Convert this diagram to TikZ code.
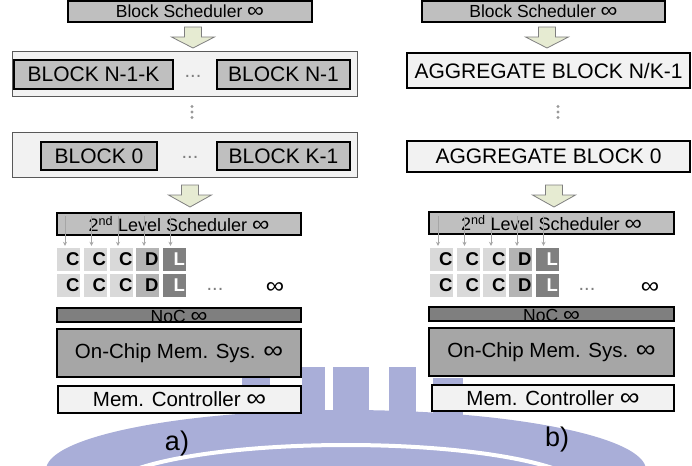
\documentclass[tikz,border=0pt]{standalone}
\usepackage{fontspec}
\setmainfont{Liberation Sans}
\usetikzlibrary{calc,arrows.meta}
\definecolor{gB}{HTML}{BFBFBF}
\definecolor{gC}{HTML}{D9D9D9}
\definecolor{gD}{HTML}{B4B4B4}
\definecolor{gL}{HTML}{808080}
\definecolor{gF}{HTML}{F2F2F2}
\definecolor{gN}{HTML}{7F7F7F}
\definecolor{gO}{HTML}{A6A6A6}
\definecolor{gBorder}{HTML}{595959}
\definecolor{wm}{HTML}{A9AED8}
\definecolor{arrfill}{HTML}{E6EBD2}
\newcommand\myfs[1]{\fontsize{#1}{#1}\selectfont}
\newcommand\infsym{\scalebox{1.35}[1.2]{∞}}
\newcommand\bigdownarrow[4]{%
  \filldraw[barr] ({#1-8.5},#2) -- ({#1+8.5},#2) -- ({#1+8.5},#3) -- ({#1+21.5},#3)
    -- (#1,#4) -- ({#1-21.5},#3) -- ({#1-8.5},#3) -- cycle;}
\newcommand\corerow[3]{%
  \node[ctile] (#1a) at (#2,#3) {C};
  \node[ctile] (#1b) at ({#2+26.5},#3) {C};
  \node[ctile] (#1c) at ({#2+53},#3) {C};
  \node[dtile] (#1d) at ({#2+79},#3) {D};
  \node[ltile] (#1e) at ({#2+105.5},#3) {L};}
\begin{document}
\begin{tikzpicture}[x=1pt,y=-1pt,
  box/.style={draw=black,line width=1.2pt,inner sep=0pt},
  sched/.style={box,fill=gB,font=\myfs{17.5}},
  blk/.style={box,fill=gB,font=\myfs{21}},
  cont/.style={draw=gBorder,line width=1pt,fill=gF,inner sep=0pt},
  agg/.style={box,fill=gF,font=\myfs{21}},
  tile/.style={inner sep=0.5pt,text width=22pt,align=right,minimum height=23pt,font=\bfseries\myfs{18.5}},
  ctile/.style={tile,fill=gC},
  dtile/.style={tile,fill=gD},
  ltile/.style={tile,fill=gL,text=white},
  noc/.style={box,fill=gN},
  onchip/.style={box,fill=gO,font=\myfs{20.5}},
  memc/.style={box,fill=gF,font=\myfs{20.5}},
  dotsg/.style={text=gN,font=\myfs{20},inner sep=0pt},
  vdot/.style={fill=gN!80},
  barr/.style={draw=gN,line width=0.8pt,fill=arrfill},
  smallarr/.style={draw=gO,line width=1pt,-{Stealth[length=4pt,width=4pt]}},
  lbl/.style={font=\myfs{27},inner sep=0pt}
]
\useasboundingbox (0,0) rectangle (692,465);
% watermark
\begin{scope}
  \clip (0,0) rectangle (692,465);
  \fill[wm] (346,470) ellipse [x radius=300,y radius=60];
  \fill[wm] (242,378) rectangle (270,420);
  \fill[wm] (302,367) rectangle (325,420);
  \fill[wm] (333,367) rectangle (369,420);
  \fill[wm] (389,367) rectangle (416,420);
  \fill[wm] (433,378) rectangle (463,420);
  \draw[white,line width=4pt] (346,492) ellipse [x radius=240,y radius=47];
\end{scope}

% ===== panel a =====
\node[sched,minimum width=244pt,minimum height=21pt] (bsA) at (190,11.5) {Block Scheduler \infsym};
\bigdownarrow{193}{27}{37}{48}
\node[cont,minimum width=345pt,minimum height=45pt] (c1A) at (184.5,74.5) {};
\node[blk,minimum width=159pt,minimum height=29pt] (bN1K) at (93.5,74.5) {BLOCK N-1-K};
\node[blk,minimum width=133pt,minimum height=29pt] (bN1) at (283.5,74.5) {BLOCK N-1};
\node[dotsg] (d1A) at (193,76) {...};
\fill[vdot] (192,106.5) circle (1.6) (192,112) circle (1.6) (192,117.5) circle (1.6);
\node[cont,minimum width=345pt,minimum height=44pt] (c2A) at (184.5,155) {};
\node[blk,minimum width=116pt,minimum height=28pt] (b0) at (99,156) {BLOCK 0};
\node[blk,minimum width=133pt,minimum height=28pt] (bK1) at (283.5,156) {BLOCK K-1};
\node[dotsg] (d2A) at (190,157) {...};
\bigdownarrow{190}{185}{195}{207}
\node[sched,minimum width=244pt,minimum height=22pt,font=\myfs{18}] (schA) at (179,224) {2\textsuperscript{nd} Level Scheduler \infsym};
\corerow{ra}{68.5}{259.5}
\corerow{rb}{68.5}{285.5}
\foreach \t in {a,b,c,d,e}
  \draw[smallarr] ($(ra\t.north |- schA.north)+(-3.5,4)$) -- ($(ra\t.north)+(-3.5,-2)$);
\node[dotsg] (d3A) at (215,289) {...};
\node[font=\myfs{19},inner sep=0pt] (infA) at (275,288) {\infsym};
\node[noc,minimum width=244pt,minimum height=14pt] (nocA) at (179,315) {};
\node[font=\myfs{17.5},anchor=base,inner sep=0pt] (nocAt) at (179,322) {NoC \infsym};
\node[onchip,minimum width=244pt,minimum height=48pt] (ocA) at (179,353) {On-Chip Mem. Sys. \infsym};
\node[memc,minimum width=243pt,minimum height=27pt] (mcA) at (179.5,399.5) {Mem. Controller \infsym};
\node[lbl] (la) at (177,444) {a)};

% ===== panel b =====
\node[sched,minimum width=243pt,minimum height=21pt] (bsB) at (543.5,11.5) {Block Scheduler \infsym};
\bigdownarrow{547}{27}{37}{48}
\node[agg,minimum width=283pt,minimum height=35pt] (ag1) at (548.5,70.5) {AGGREGATE BLOCK N/K-1};
\fill[vdot] (558,106.5) circle (1.6) (558,112) circle (1.6) (558,117.5) circle (1.6);
\node[agg,minimum width=283pt,minimum height=31pt] (ag0) at (548.5,156.5) {AGGREGATE BLOCK 0};
\bigdownarrow{554}{185}{195}{207}
\node[sched,minimum width=245pt,minimum height=22pt,font=\myfs{18}] (schB) at (551.5,223) {2\textsuperscript{nd} Level Scheduler \infsym};
\corerow{rc}{441.5}{259.5}
\corerow{rd}{441.5}{285.5}
\foreach \t in {a,b,c,d,e}
  \draw[smallarr] ($(rc\t.north |- schB.north)+(-3.5,5)$) -- ($(rc\t.north)+(-3.5,-2)$);
\node[dotsg] (d3B) at (587,289) {...};
\node[font=\myfs{19},inner sep=0pt] (infB) at (650,288) {\infsym};
\node[noc,minimum width=245pt,minimum height=14pt] (nocB) at (551.5,314) {};
\node[font=\myfs{17.5},anchor=base,inner sep=0pt] (nocBt) at (551.5,321) {NoC \infsym};
\node[onchip,minimum width=245pt,minimum height=48pt] (ocB) at (551.5,352) {On-Chip Mem. Sys. \infsym};
\node[memc,minimum width=242pt,minimum height=26pt] (mcB) at (553,398) {Mem. Controller \infsym};
\node[lbl] (lb) at (557,440) {b)};
\end{tikzpicture}
\end{document}
